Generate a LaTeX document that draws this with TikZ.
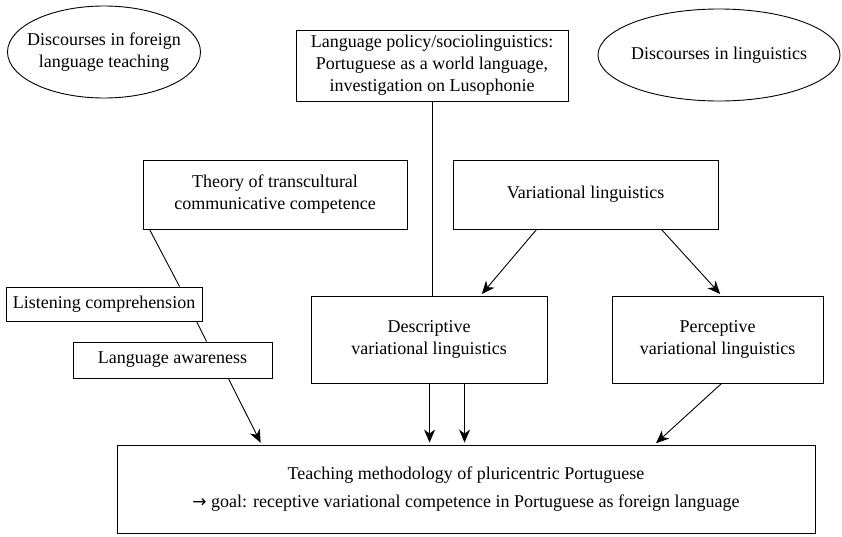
\documentclass[tikz,border=0pt]{standalone}
\usepackage{fontspec}
\setmainfont{Liberation Serif}
\newfontfamily\symfont{DejaVu Sans}
\usetikzlibrary{arrows.meta,shapes.geometric}
\begin{document}
\begin{tikzpicture}[x=1pt,y=-1pt,
  txt/.style={font=\fontsize{18}{22}\selectfont,align=center,inner sep=0pt},
  box/.style={txt,draw,line width=0.9pt,rectangle},
  oval/.style={txt,draw,line width=0.9pt,ellipse,inner xsep=-10pt},
  link/.style={line width=0.9pt},
  arr/.style={line width=0.9pt,-{Stealth[length=13pt,width=11pt,inset=4pt]},shorten >=2pt}]
\useasboundingbox (0,0) rectangle (842,536);
\node[oval,minimum width=193pt,minimum height=92pt] (fl) at (104,52) {Discourses in foreign\\language teaching};
\node[oval,minimum width=242pt,minimum height=92pt] (ling) at (719,55) {Discourses in linguistics};
\node[box,minimum width=272pt,minimum height=71pt] (policy) at (432,65.5) {Language policy/sociolinguistics:\\Portuguese as a world language,\\investigation on Lusophonie};
\node[box,minimum width=264pt,minimum height=69pt] (theory) at (275,194.5) {Theory of transcultural\\communicative competence};
\node[box,minimum width=265pt,minimum height=69pt] (var) at (585.5,194.5) {Variational linguistics};
\node[box,minimum width=196pt,minimum height=34pt] (listen) at (104,304) {Listening comprehension};
\node[box,minimum width=199pt,minimum height=36pt] (aware) at (172.5,360) {Language awareness};
\node[box,minimum width=236pt,minimum height=87pt] (desc) at (429,339.5) {Descriptive\\variational linguistics};
\node[box,minimum width=211pt,minimum height=87pt] (perc) at (717.5,339.5) {Perceptive\\variational linguistics};
\node[box,minimum width=698pt,minimum height=88pt,font=\fontsize{18}{28}\selectfont] (goal) at (466,489) {Teaching methodology of pluricentric Portuguese\\{\symfont\fontsize{17}{28}\selectfont →} goal: receptive variational competence in Portuguese as foreign language};
\draw[link] (policy.south) -- (policy.south |- desc.north);
\draw[link] ([xshift=7pt]theory.south west) -- ([xshift=174pt]listen.north west);
\draw[link] ([xshift=191pt]listen.south west) -- ([xshift=134pt]aware.north west);
\draw[arr] ([xshift=-44pt]aware.south east) -- ([xshift=145pt]goal.north west);
\draw[arr] ([xshift=84pt]var.south west) -- ([xshift=170pt]desc.north west);
\draw[arr] ([xshift=-57pt]var.south east) -- ([xshift=110pt]perc.north west);
\draw[arr] ([xshift=119pt]desc.south west) -- ([xshift=119pt]desc.south west |- goal.north);
\draw[arr] ([xshift=154pt]desc.south west) -- ([xshift=154pt]desc.south west |- goal.north);
\draw[arr] ([xshift=110pt]perc.south west) -- ([xshift=538pt]goal.north west);
\end{tikzpicture}
\end{document}
